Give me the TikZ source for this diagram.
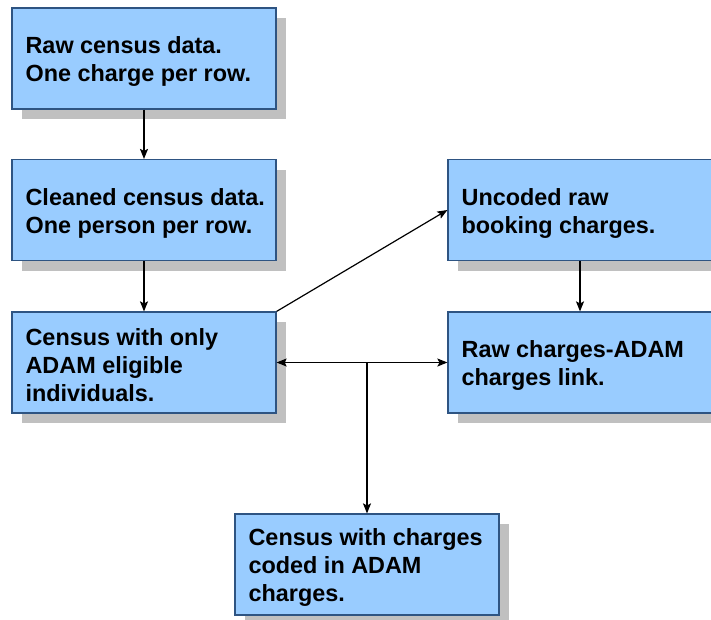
\documentclass[tikz,border=0pt]{standalone}
\usepackage{fontspec}
\setmainfont{Liberation Sans}
\usetikzlibrary{arrows.meta,shadows}
\definecolor{boxfill}{RGB}{153,204,255}
\definecolor{boxline}{RGB}{46,84,130}
\definecolor{shadowgray}{RGB}{192,192,192}
\tikzset{
  box/.style={rectangle, draw=boxline, line width=1.2pt, fill=boxfill,
    minimum width=264pt, minimum height=101pt, inner sep=0pt,
    drop shadow={shadow xshift=10pt, shadow yshift=-10pt, fill=shadowgray, opacity=1}},
  txt/.style={anchor=west, align=left, inner sep=0pt,
    font=\bfseries\fontsize{23.4}{28}\selectfont},
  conn/.style={line width=1.2pt, -{Stealth[length=10pt,width=8pt,inset=2pt]}},
  conn2/.style={line width=1.2pt, {Stealth[length=10pt,width=8pt,inset=2pt]}-{Stealth[length=10pt,width=8pt,inset=2pt]}}
}
\begin{document}
\begin{tikzpicture}[x=1pt,y=-1pt]
\useasboundingbox (0,0) rectangle (711,619);
\clip (0,0) rectangle (711,619);
\node[box] (b1) at (144,58.5) {};
\node[box] (b2) at (144,210) {};
\node[box] (b3) at (144,362.5) {};
\node[box] (b4) at (580,210) {};
\node[box] (b5) at (580,362.5) {};
\node[box] (b6) at (367,564.5) {};
\node[txt] (t1) at ([xshift=14pt,yshift=-3pt]b1.west) {Raw census data.\\One charge per row.};
\node[txt] (t2) at ([xshift=14pt,yshift=-3pt]b2.west) {Cleaned census data.\\One person per row.};
\node[txt] (t3) at ([xshift=14pt,yshift=-3pt]b3.west) {Census with only\\ADAM eligible\\individuals.};
\node[txt] (t4) at ([xshift=14pt,yshift=-3pt]b4.west) {Uncoded raw\\booking charges.};
\node[txt] (t5) at ([xshift=14pt,yshift=-3pt]b5.west) {Raw charges-ADAM\\charges link.};
\node[txt] (t6) at ([xshift=14pt,yshift=-3pt]b6.west) {Census with charges\\coded in ADAM\\charges.};
\draw[conn] (b1.south) -- (b2.north);
\draw[conn] (b2.south) -- (b3.north);
\draw[conn] (b3.north east) -- (b4.west);
\draw[conn] (b4.south) -- (b5.north);
\draw[conn2] (b3.east) -- (b5.west);
\coordinate (j) at (b6.north |- b3.east);
\draw[conn] (j) -- (b6.north);
\end{tikzpicture}
\end{document}
